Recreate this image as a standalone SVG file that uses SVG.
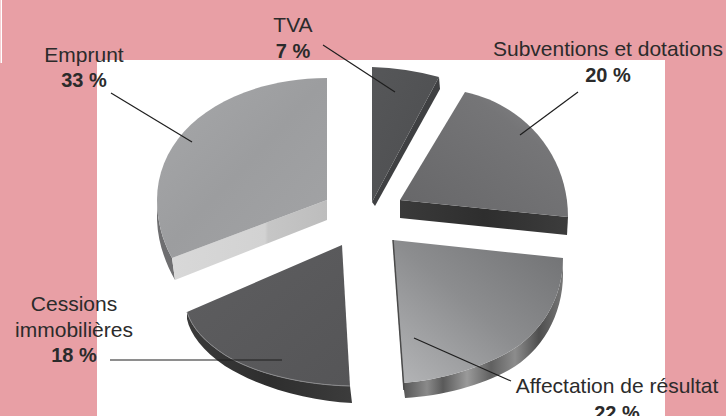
<svg xmlns="http://www.w3.org/2000/svg" width="726" height="416" viewBox="0 0 726 416">
<defs>
<style>
.lbl{font-family:"Liberation Sans",Arial,sans-serif;font-size:21px;fill:#2b2b2b;text-anchor:middle}
.pct{font-family:"Liberation Sans",Arial,sans-serif;font-size:20px;font-weight:bold;fill:#2b2b2b;text-anchor:middle}
.lead{stroke:#1e1e1e;stroke-width:1.2;fill:none}
</style>
<linearGradient id="gEmp" x1="0" y1="0" x2="1" y2="1">
<stop offset="0" stop-color="#a7a8aa"/><stop offset="0.5" stop-color="#9c9d9f"/><stop offset="1" stop-color="#a3a4a6"/>
</linearGradient>
<linearGradient id="gEmpSide" x1="0" y1="0" x2="1" y2="0">
<stop offset="0" stop-color="#d8d8d8"/><stop offset="0.6" stop-color="#d2d2d2"/><stop offset="0.62" stop-color="#c6c6c6"/><stop offset="1" stop-color="#bdbdbd"/>
</linearGradient>
<linearGradient id="gTva" x1="0" y1="0" x2="1" y2="1">
<stop offset="0" stop-color="#565759"/><stop offset="1" stop-color="#4c4d4f"/>
</linearGradient>
<linearGradient id="gSub" x1="0" y1="1" x2="1" y2="0">
<stop offset="0" stop-color="#666668"/><stop offset="0.7" stop-color="#757577"/><stop offset="1" stop-color="#8c8c8e"/>
</linearGradient>
<linearGradient id="gCes" x1="0" y1="0" x2="1" y2="1">
<stop offset="0" stop-color="#5e5e60"/><stop offset="1" stop-color="#555557"/>
</linearGradient>
<linearGradient id="gAff" x1="1" y1="0" x2="0" y2="1">
<stop offset="0" stop-color="#707173"/><stop offset="0.5" stop-color="#8c8d8f"/><stop offset="1" stop-color="#b5b6b8"/>
</linearGradient>
<linearGradient id="gMetal" x1="0" y1="0" x2="1" y2="0">
<stop offset="0" stop-color="#555"/><stop offset="0.15" stop-color="#8a8a8a"/><stop offset="0.25" stop-color="#5a5a5a"/><stop offset="0.4" stop-color="#9a9a9a"/><stop offset="0.55" stop-color="#606060"/><stop offset="0.7" stop-color="#8c8c8c"/><stop offset="0.85" stop-color="#4e4e4e"/><stop offset="1" stop-color="#777"/>
</linearGradient>
<linearGradient id="gDark" x1="0" y1="0" x2="1" y2="0">
<stop offset="0" stop-color="#3a3a3a"/><stop offset="0.5" stop-color="#2e2e2e"/><stop offset="1" stop-color="#3c3c3c"/>
</linearGradient>
</defs>

<rect x="0" y="0" width="726" height="416" fill="#e89fa5"/>
<rect x="97" y="60" width="568" height="356" fill="#ffffff"/>
<rect x="0.5" y="0" width="1.5" height="63" fill="#ffffff"/>

<g id="slice-emprunt">
<path d="M157,200 C157,222 163,242 172,258 L175,280 C166,264 158,244 157,220 Z" fill="#6e6e70"/>
<path d="M172,258 L327,200 L327,220 L175,280 Z" fill="url(#gEmpSide)"/>
<path d="M327,78 L327,200 L172,258 C163,242 157,222 157,200 C157,130 228,79 327,78 Z" fill="url(#gEmp)"/>
</g>

<g id="slice-tva">
<path d="M439,77 L440,89 L375,206 L372,202 Z" fill="#3f4042"/>
<path d="M372,67 Q406,68 439,77 L372,202 Z" fill="url(#gTva)"/>
</g>

<g id="slice-subventions">
<path d="M400,200 L568,217 L567,235 L400,218 Z" fill="url(#gDark)"/>
<path d="M400,200 L465,92 C525,105 568,155 568,217 Z" fill="url(#gSub)"/>
</g>

<g id="slice-cessions">
<path d="M187,312 C192,328 205,342 225,355 C255,374 305,385 350,386 L352,403 C310,401 260,388 225,366 C203,351 190,334 187,319 Z" fill="url(#gDark)"/>
<path d="M342,245 L350,386 C305,385 255,374 225,355 C205,342 192,328 187,312 Z" fill="url(#gCes)"/>
<path d="M187,312 C192,328 205,342 225,355 C255,374 305,385 350,386" fill="none" stroke="#8a8a8c" stroke-width="1"/>
</g>

<g id="slice-affectation">
<path d="M563,258 C563,300 540,335 507,353 C480,368 440,380 403,383 L405,398 C442,396 482,385 509,370 C542,352 564,314 563,271 Z" fill="url(#gMetal)"/>
<path d="M393,240 L563,258 C563,300 540,335 507,353 C480,368 440,380 403,383 Z" fill="url(#gAff)"/>
<path d="M393,240 L404,390" stroke="#4a4a4a" stroke-width="1.5" fill="none"/>
</g>

<g id="connectors">
<line class="lead" x1="323" y1="45" x2="395" y2="92"/>
<line class="lead" x1="111" y1="93" x2="192" y2="142"/>
<line class="lead" x1="578" y1="92" x2="520" y2="135"/>
<line class="lead" x1="110" y1="360" x2="282" y2="360"/>
<line class="lead" x1="414" y1="338" x2="511" y2="381"/>
</g>

<g id="label-tva">
<text class="lbl" x="293" y="32">TVA</text>
<text class="pct" x="293" y="58">7 %</text>
</g>
<g id="label-emprunt">
<text class="lbl" x="84" y="62">Emprunt</text>
<text class="pct" x="84" y="87">33 %</text>
</g>
<g id="label-subventions">
<text class="lbl" x="608" y="56">Subventions et dotations</text>
<text class="pct" x="608" y="82">20 %</text>
</g>
<g id="label-cessions">
<text class="lbl" x="74" y="311">Cessions</text>
<text class="lbl" x="74" y="337">immobilières</text>
<text class="pct" x="74" y="362">18 %</text>
</g>
<g id="label-affectation">
<text class="lbl" x="617" y="393">Affectation de résultat</text>
<text class="pct" x="617" y="420">22 %</text>
</g>
</svg>
